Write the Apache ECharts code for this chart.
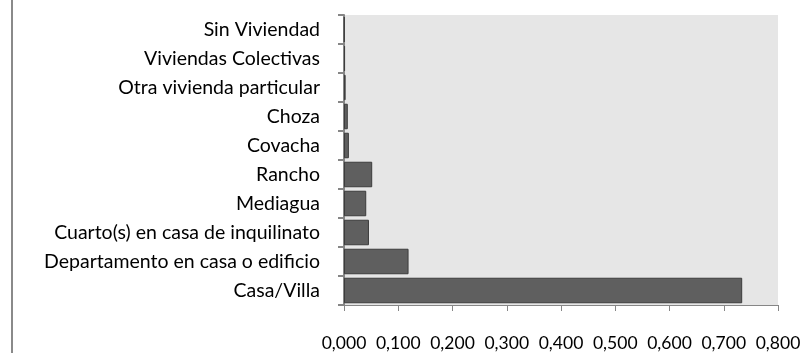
<!DOCTYPE html>
<html>
<head>
<meta charset="utf-8">
<script src="https://cdn.jsdelivr.net/npm/echarts@6/dist/echarts.min.js"></script>
<style>
html,body{margin:0;padding:0;background:#fff;}
#wrap{position:relative;width:805px;height:353px;}
#chart{position:absolute;left:0;top:0;width:805px;height:353px;}
#edge{position:absolute;left:11px;top:0;width:2px;height:353px;background:#8a8a8a;}
</style>
</head>
<body>
<div id="wrap"><div id="edge"></div><div id="chart"></div></div>
<script>
const categories = [
  "Casa/Villa",
  "Departamento en casa o edificio",
  "Cuarto(s) en casa de inquilinato",
  "Mediagua",
  "Rancho",
  "Covacha",
  "Choza",
  "Otra vivienda particular",
  "Viviendas Colectivas",
  "Sin Viviendad"
];
const values = [0.734, 0.119, 0.046, 0.041, 0.052, 0.009, 0.007, 0.003, 0.002, 0.001];
const xMin = 0, xMax = 0.8, xStep = 0.1;

const chart = echarts.init(document.getElementById('chart'), null, {renderer: 'canvas'});
const font = 'Lato, "Open Sans", sans-serif';
chart.setOption({
  animation: false,
  grid: {left: 344, right: 27, top: 15, bottom: 48, show: true, backgroundColor: '#e6e6e6', borderWidth: 0},
  xAxis: {
    type: 'value', min: xMin, max: xMax, interval: xStep,
    axisLine: {show: true, lineStyle: {color: '#868686', width: 1}},
    axisTick: {show: true, length: 6, lineStyle: {color: '#868686'}},
    splitLine: {show: false},
    axisLabel: {margin: 29, color: '#000', fontFamily: font, fontSize: 17.5,
      formatter: v => v.toFixed(3).replace('.', ',')}
  },
  yAxis: {
    type: 'category', data: categories,
    axisLine: {show: true, lineStyle: {color: '#868686', width: 2}},
    axisTick: {show: true, length: 6, alignWithLabel: false, lineStyle: {color: '#868686', width: 2}},
    axisLabel: {margin: 24, color: '#000', fontFamily: font, fontSize: 19.5}
  },
  series: [{
    type: 'bar', data: values, barCategoryGap: '12%',
    itemStyle: {color: '#5f5f5f', borderColor: '#3c3c3c', borderWidth: 1}
  }]
});
</script>
</body>
</html>
